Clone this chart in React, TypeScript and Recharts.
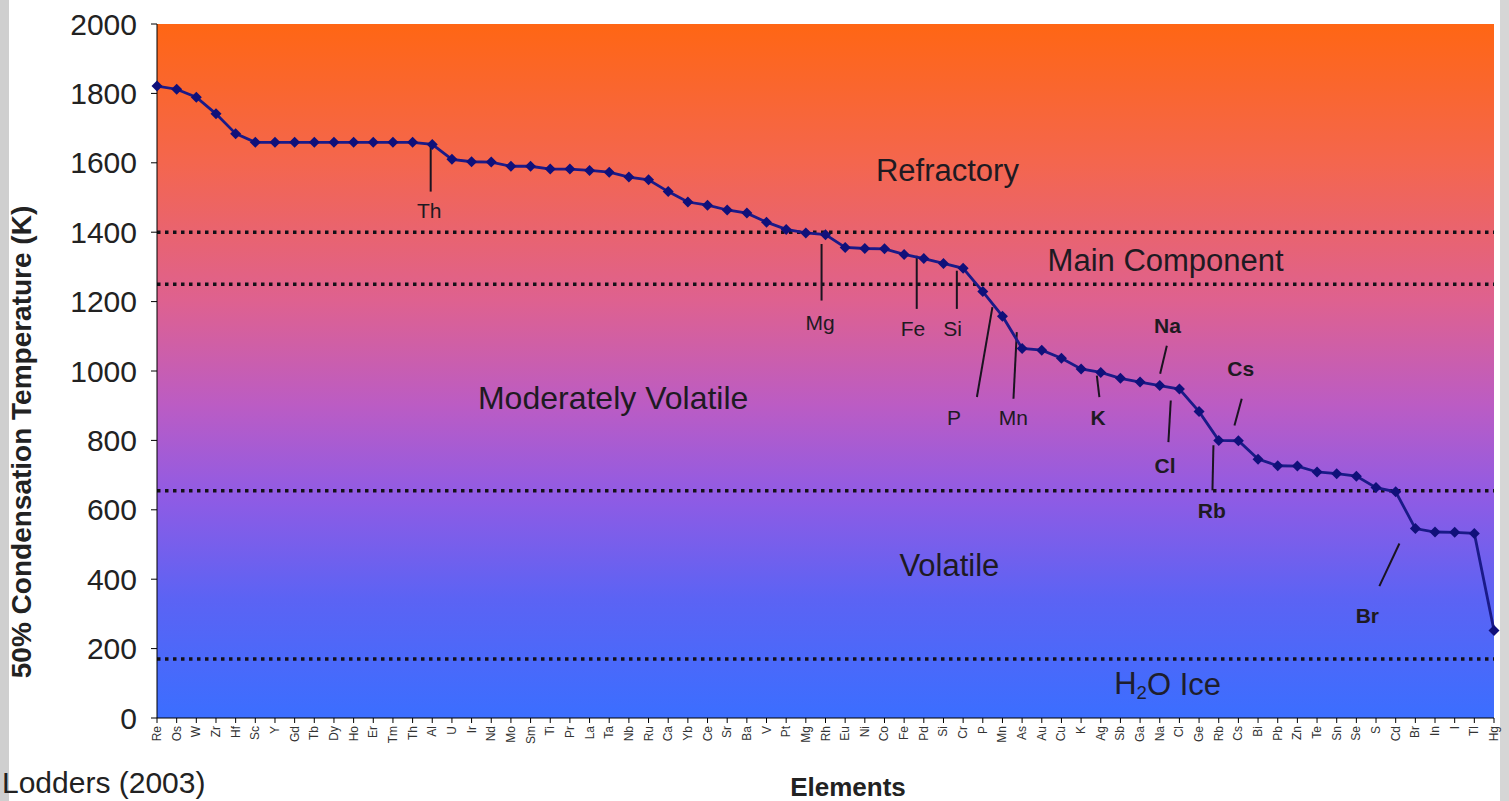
import { LineChart, Line, XAxis, YAxis, ReferenceArea, ReferenceLine, ReferenceDot } from "recharts";

const elements = [
  "Re", "Os", "W", "Zr", "Hf", "Sc", "Y", "Gd", "Tb", "Dy", "Ho", "Er", "Tm", "Th", "Al",
  "U", "Ir", "Nd", "Mo", "Sm", "Ti", "Pr", "La", "Ta", "Nb", "Ru", "Ca", "Yb", "Ce", "Sr",
  "Ba", "V", "Pt", "Mg", "Rh", "Eu", "Ni", "Co", "Fe", "Pd", "Si", "Cr", "P", "Mn", "As",
  "Au", "Cu", "K", "Ag", "Sb", "Ga", "Na", "Cl", "Ge", "Rb", "Cs", "Bi", "Pb", "Zn", "Te",
  "Sn", "Se", "S", "Cd", "Br", "In", "I", "Tl", "Hg",
];

const condTemp = [
  1821, 1812, 1789, 1741, 1684, 1659, 1659, 1659, 1659, 1659, 1659, 1659, 1659, 1659, 1653,
  1610, 1603, 1602, 1590, 1590, 1582, 1582, 1578, 1573, 1559, 1551, 1517, 1487, 1478, 1464,
  1455, 1429, 1408, 1398, 1393, 1356, 1353, 1352, 1336, 1324, 1310, 1296, 1229, 1158, 1065,
  1060, 1037, 1006, 996, 979, 968, 958, 948, 883, 800, 799, 746, 727, 726, 709,
  704, 697, 664, 652, 546, 536, 535, 532, 252,
];

const yTicks = [0, 200, 400, 600, 800, 1000, 1200, 1400, 1600, 1800, 2000];

// boundaries between the groups (K)
const boundaries = [1400, 1250, 655, 170];

const regionLabels = [
  { text: "Refractory", x: 40.2, y: 1577 },
  { text: "Main Component", x: 51.3, y: 1318 },
  { text: "Moderately Volatile", x: 23.2, y: 921 },
  { text: "Volatile", x: 40.3, y: 440 },
  { text: "H2O Ice", x: 51.4, y: 98 },
];

// callout: leader segment + element label
const callouts = [
  { text: "Th", bold: false, seg: [[13.92, 1650], [13.92, 1517]], at: [13.85, 1462] },
  { text: "Mg", bold: false, seg: [[33.8, 1366], [33.8, 1203]], at: [33.72, 1140] },
  { text: "Fe", bold: false, seg: [[38.64, 1332], [38.64, 1179]], at: [38.45, 1122] },
  { text: "Si", bold: false, seg: [[40.68, 1289], [40.68, 1179]], at: [40.47, 1122] },
  { text: "P", bold: false, seg: [[41.7, 925], [42.49, 1184]], at: [40.54, 867] },
  { text: "Mn", bold: false, seg: [[43.56, 920], [43.73, 1112]], at: [43.55, 867] },
  { text: "K", bold: true, seg: [[47.8, 987], [47.93, 925]], at: [47.87, 867] },
  { text: "Na", bold: true, seg: [[51.36, 1073], [51.02, 992]], at: [51.39, 1131] },
  { text: "Cl", bold: true, seg: [[51.56, 915], [51.44, 795]], at: [51.27, 728] },
  { text: "Cs", bold: true, seg: [[55.17, 920], [54.8, 843]], at: [55.12, 1006] },
  { text: "Rb", bold: true, seg: [[53.73, 786], [53.68, 656]], at: [53.65, 599] },
  { text: "Br", bold: true, seg: [[63.19, 503], [62.17, 380]], at: [61.56, 296] },
];

const chartData = elements.map((name, i) => ({ idx: i, name, temp: condTemp[i] }));
const xTicks = elements.map((_, i) => i);

const Diamond = (props: any) => {
  const { cx, cy } = props;
  if (cx == null || cy == null) return null;
  const r = 5.5;
  return <path d={`M${cx},${cy - r}L${cx + r},${cy}L${cx},${cy + r}L${cx - r},${cy}Z`} fill="#10107a" />;
};

const ElementTick = (props: any) => {
  const { x, y, payload } = props;
  return (
    <text
      x={x}
      y={y}
      transform={`rotate(-90 ${x} ${y})`}
      textAnchor="end"
      dominantBaseline="central"
      fontSize={12}
      fill="#333"
    >
      {elements[payload.value]}
    </text>
  );
};

const textShape = (text: string, size: number, bold: boolean) => (props: any) => {
  const { cx, cy } = props;
  if (text === "H2O Ice") {
    return (
      <text x={cx} y={cy} textAnchor="middle" dominantBaseline="central" fontSize={size} fill="#1e1e2e">
        H<tspan fontSize={size * 0.6} dy={8}>2</tspan>
        <tspan dy={-8}>O Ice</tspan>
      </text>
    );
  }
  return (
    <text
      x={cx}
      y={cy}
      textAnchor="middle"
      dominantBaseline="central"
      fontSize={size}
      fontWeight={bold ? "bold" : "normal"}
      fill="#1e1a22"
    >
      {text}
    </text>
  );
};

export default function App() {
  return (
    <div
      style={{
        position: "fixed",
        left: 0,
        top: 0,
        width: 1509,
        height: 801,
        background: "#fff",
        fontFamily: "'Liberation Sans', Arial, sans-serif",
        overflow: "hidden",
      }}
    >
      <div style={{ position: "absolute", left: 0, top: 0, width: 9, height: 801, background: "#cfcfcf" }} />
      <div style={{ position: "absolute", right: 0, top: 0, width: 9, height: 801, background: "#d6d6d6" }} />
      <LineChart
        width={1509}
        height={801}
        data={chartData}
        margin={{ top: 24, right: 15, left: 0, bottom: 43 }}
      >
        <defs>
          <linearGradient id="bgGrad" x1="0" y1="0" x2="0" y2="1">
            <stop offset="0%" stopColor="#ff6614" />
            <stop offset="20%" stopColor="#f4664e" />
            <stop offset="40%" stopColor="#de6190" />
            <stop offset="55%" stopColor="#bb5cc4" />
            <stop offset="68%" stopColor="#905be4" />
            <stop offset="83%" stopColor="#5b63f4" />
            <stop offset="100%" stopColor="#3b6eff" />
          </linearGradient>
        </defs>
        <ReferenceArea x1={0} x2={68} y1={0} y2={2000} fill="url(#bgGrad)" fillOpacity={1} stroke="none" />
        {boundaries.map(b => (
          <ReferenceLine key={b} y={b} stroke="#141018" strokeWidth={3.5} strokeDasharray="3.5 4.5" />
        ))}
        <XAxis
          dataKey="idx"
          type="number"
          domain={[0, 68]}
          ticks={xTicks}
          interval={0}
          height={40}
          tickSize={5}
          tickMargin={3}
          stroke="#000"
          tick={<ElementTick />}
          label={{
            content: () => (
              <text x={848} y={796} textAnchor="middle" fontSize={26} fontWeight="bold" fill="#222">
                Elements
              </text>
            ),
          }}
        />
        <YAxis
          domain={[0, 2000]}
          ticks={yTicks}
          width={157}
          tickSize={6}
          tickMargin={14}
          stroke="#000"
          tick={{ fill: "#222", fontSize: 30 }}
          label={{
            content: () => (
              <text
                x={21}
                y={442}
                transform="rotate(-90 21 442)"
                textAnchor="middle"
                dominantBaseline="central"
                fontSize={28}
                fontWeight="bold"
                fill="#222"
              >
                50% Condensation Temperature (K)
              </text>
            ),
          }}
        />
        {callouts.map(c => (
          <ReferenceLine
            key={c.text + "-seg"}
            segment={[{ x: c.seg[0][0], y: c.seg[0][1] }, { x: c.seg[1][0], y: c.seg[1][1] }]}
            stroke="#1a1420"
            strokeWidth={2}
          />
        ))}
        <Line
          type="linear"
          dataKey="temp"
          stroke="#1a1a88"
          strokeWidth={2.8}
          dot={<Diamond />}
          activeDot={false}
          isAnimationActive={false}
        />
        {regionLabels.map(r => (
          <ReferenceDot key={r.text} x={r.x} y={r.y} r={0} shape={textShape(r.text, r.text === "Moderately Volatile" ? 32 : 31, false)} />
        ))}
        {callouts.map(c => (
          <ReferenceDot key={c.text} x={c.at[0]} y={c.at[1]} r={0} shape={textShape(c.text, 21, c.bold)} />
        ))}
      </LineChart>
      <div style={{ position: "absolute", left: 2, top: 766, fontSize: 30, lineHeight: "34px", color: "#222" }}>
        Lodders (2003)
      </div>
    </div>
  );
}
